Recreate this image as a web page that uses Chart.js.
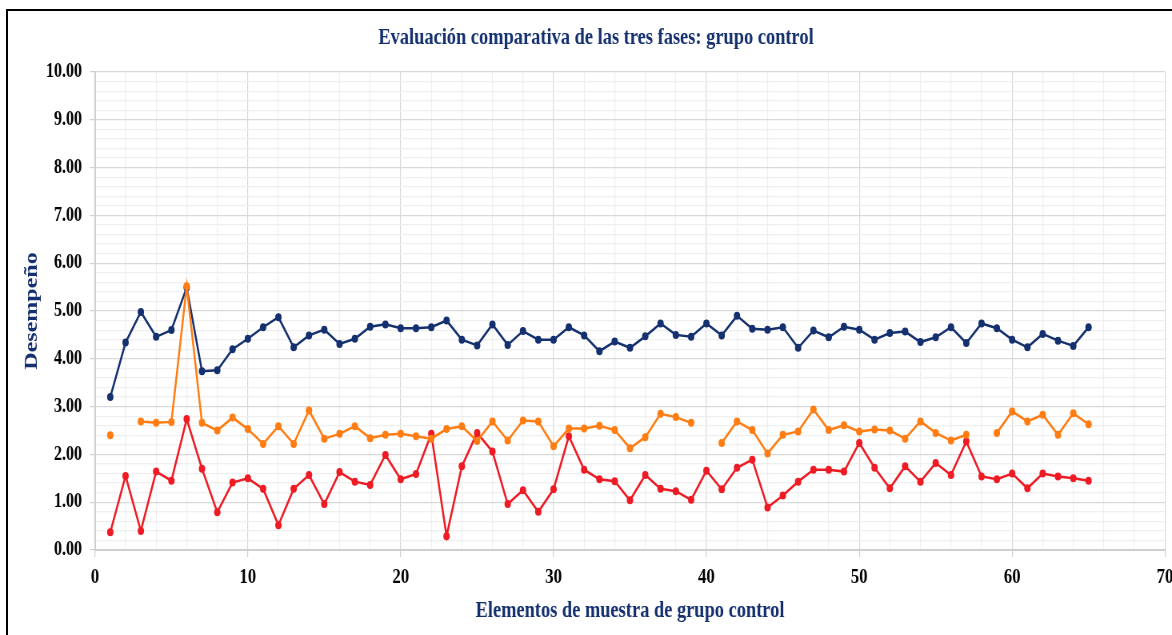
<!DOCTYPE html>
<html lang="es">
<head>
    <meta charset="UTF-8">
    <title>Evaluación comparativa de las tres fases: grupo control</title>
    <style>
        body { margin: 0; background: #fff; overflow: hidden; }
        #marco { position: absolute; left: 6px; top: 9px; width: 1300px; height: 800px; border: 2px solid #000; pointer-events: none; z-index: 1; }
        /* la imagen original está comprimida a lo ancho */
        #lienzo { position: absolute; left: 0; top: 0; width: 1465px; height: 635px; transform: scaleX(0.8); transform-origin: 0 0; }
    </style>
    <script src="https://cdn.jsdelivr.net/npm/chart.js"></script>
</head>
<body>
    <div id="marco"></div>
    <div id="lienzo"><canvas id="grafico" width="1465" height="635"></canvas></div>

    <script>
        const titulo = 'Evaluación comparativa de las tres fases: grupo control';
        const tituloX = 'Elementos de muestra de grupo control';
        const tituloY = 'Desempeño';

        const elementos = [1, 2, 3, 4, 5, 6, 7, 8, 9, 10, 11, 12, 13, 14, 15, 16, 17, 18, 19, 20,
            21, 22, 23, 24, 25, 26, 27, 28, 29, 30, 31, 32, 33, 34, 35, 36, 37, 38, 39, 40,
            41, 42, 43, 44, 45, 46, 47, 48, 49, 50, 51, 52, 53, 54, 55, 56, 57, 58, 59, 60,
            61, 62, 63, 64, 65];

        const serieAzul = [3.20, 4.34, 4.98, 4.46, 4.60, 5.49, 3.74, 3.76, 4.20, 4.42,
            4.66, 4.87, 4.24, 4.49, 4.61, 4.31, 4.42, 4.67, 4.72, 4.64,
            4.64, 4.66, 4.80, 4.40, 4.28, 4.72, 4.29, 4.58, 4.40, 4.40,
            4.66, 4.49, 4.16, 4.36, 4.23, 4.47, 4.74, 4.50, 4.46, 4.74,
            4.49, 4.90, 4.63, 4.61, 4.66, 4.23, 4.59, 4.45, 4.67, 4.61,
            4.40, 4.54, 4.57, 4.35, 4.45, 4.66, 4.33, 4.74, 4.64, 4.40,
            4.24, 4.52, 4.38, 4.27, 4.66];

        const serieNaranja = [2.40, null, 2.69, 2.66, 2.68, 5.52, 2.66, 2.50, 2.77, 2.53,
            2.22, 2.59, 2.22, 2.92, 2.33, 2.43, 2.59, 2.34, 2.41, 2.43,
            2.38, 2.33, 2.53, 2.59, 2.28, 2.69, 2.29, 2.71, 2.69, 2.17,
            2.54, 2.54, 2.60, 2.51, 2.13, 2.36, 2.85, 2.78, 2.66, null,
            2.24, 2.69, 2.51, 2.02, 2.41, 2.48, 2.94, 2.51, 2.61, 2.48,
            2.52, 2.50, 2.33, 2.69, 2.45, 2.29, 2.41, null, 2.45, 2.90,
            2.69, 2.83, 2.41, 2.86, 2.63];

        const serieRoja = [0.37, 1.55, 0.40, 1.64, 1.45, 2.74, 1.70, 0.79, 1.41, 1.50,
            1.28, 0.52, 1.28, 1.57, 0.96, 1.63, 1.43, 1.36, 1.99, 1.48,
            1.59, 2.43, 0.29, 1.75, 2.45, 2.06, 0.96, 1.25, 0.80, 1.27,
            2.38, 1.68, 1.48, 1.44, 1.04, 1.57, 1.28, 1.23, 1.05, 1.66,
            1.27, 1.72, 1.89, 0.89, 1.14, 1.43, 1.68, 1.68, 1.64, 2.24,
            1.72, 1.29, 1.75, 1.43, 1.82, 1.57, 2.27, 1.54, 1.48, 1.60,
            1.29, 1.60, 1.54, 1.50, 1.45];

        const azul = '#14306e';
        const naranja = '#ff7d12';
        const rojo = '#ee1b24';
        const fuente = '"Liberation Serif", "Times New Roman", serif';

        function puntos(serie) {
            return elementos.map((x, i) => ({ x: x, y: serie[i] }));
        }

        function serie(datos, color) {
            return {
                data: puntos(datos),
                borderColor: color,
                backgroundColor: color,
                borderWidth: 2.5,
                pointRadius: 4,
                pointBorderWidth: 0,
                tension: 0,
                spanGaps: false
            };
        }

        function esEntero(v, paso) {
            return Math.abs(v / paso - Math.round(v / paso)) < 1e-6;
        }

        // título centrado sobre el marco del gráfico
        const tituloPlugin = {
            id: 'tituloGrafico',
            afterDraw(chart) {
                const ctx = chart.ctx;
                ctx.save();
                ctx.font = 'bold 23px ' + fuente;
                ctx.fillStyle = azul;
                ctx.textAlign = 'center';
                ctx.textBaseline = 'middle';
                ctx.fillText(titulo, 745, 38);
                ctx.restore();
            }
        };

        new Chart(document.getElementById('grafico'), {
            type: 'line',
            data: {
                datasets: [
                    serie(serieNaranja, naranja),
                    serie(serieRoja, rojo),
                    serie(serieAzul, azul)
                ]
            },
            options: {
                responsive: false,
                animation: false,
                devicePixelRatio: 1,
                layout: { padding: { top: 72, right: 8.75, bottom: 0, left: 0 } },
                plugins: {
                    legend: { display: false },
                    tooltip: { enabled: false }
                },
                scales: {
                    x: {
                        type: 'linear',
                        min: 0,
                        max: 70,
                        afterFit(scale) {
                            scale.height = 85;
                            scale.paddingLeft = 0;
                            scale.paddingRight = 0;
                        },
                        ticks: {
                            stepSize: 2,
                            autoSkip: false,
                            maxRotation: 0,
                            padding: 8,
                            color: '#000',
                            font: { family: fuente, size: 21, weight: 'bold' },
                            callback: v => esEntero(v, 10) ? String(v) : ''
                        },
                        grid: {
                            color: c => esEntero(c.tick.value, 10) ? '#d9d9d9' : '#efefef',
                            tickColor: c => esEntero(c.tick.value, 10) ? '#cfcfcf' : 'rgba(0,0,0,0)',
                            tickLength: 7,
                            lineWidth: 1.2
                        },
                        border: { color: '#cfcfcf', width: 2 },
                        title: {
                            display: true,
                            text: tituloX,
                            color: azul,
                            font: { family: fuente, size: 23, weight: 'bold' },
                            padding: { top: 0, bottom: 10 }
                        }
                    },
                    y: {
                        min: 0,
                        max: 10,
                        afterFit(scale) {
                            scale.width = 118.75;
                        },
                        ticks: {
                            stepSize: 0.2,
                            autoSkip: false,
                            padding: 10,
                            color: '#000',
                            font: { family: fuente, size: 20, weight: 'bold' },
                            callback: v => esEntero(v, 1) ? v.toFixed(2) : ''
                        },
                        grid: {
                            color: c => esEntero(c.tick.value, 1) ? '#d9d9d9' : '#efefef',
                            tickColor: c => esEntero(c.tick.value, 1) ? '#cfcfcf' : 'rgba(0,0,0,0)',
                            tickLength: 6.25,
                            lineWidth: 1.2
                        },
                        border: { color: '#cfcfcf', width: 2 },
                        title: {
                            display: true,
                            text: tituloY,
                            color: azul,
                            font: { family: fuente, size: 24, weight: 'bold' },
                            padding: { top: 25.6, bottom: 0 }
                        }
                    }
                }
            },
            plugins: [tituloPlugin]
        });
    </script>
</body>
</html>
